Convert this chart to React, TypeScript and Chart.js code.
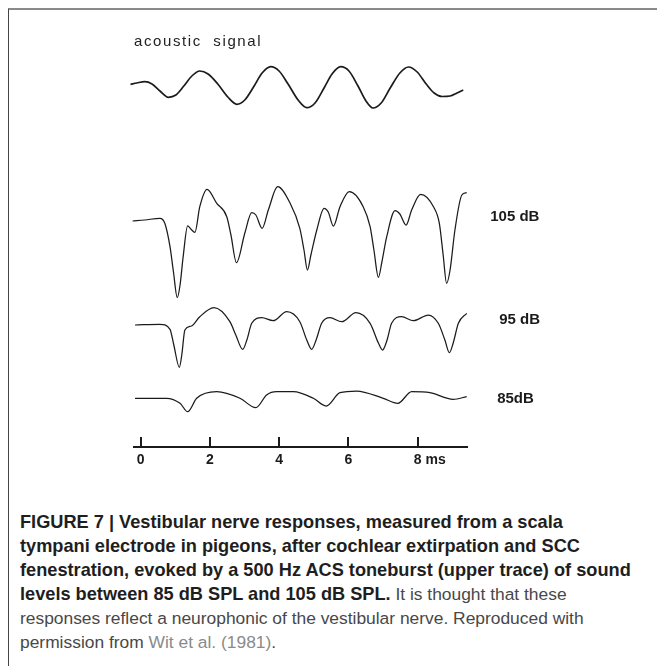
import React, { useEffect, useRef } from 'react';
import { Chart, registerables } from 'chart.js';

Chart.register(...registerables);

// ---------- data (time in ms, amplitude in arbitrary units) ----------
const STIM_T = [-0.29, -0.11, 0.12, 0.33, 0.56, 0.8, 1.02, 1.25, 1.48, 1.71, 1.95, 2.23, 2.52, 2.78, 3.01, 3.28, 3.51, 3.76, 4.0, 4.26, 4.55, 4.8, 5.04, 5.3, 5.53, 5.78, 6.02, 6.28, 6.51, 6.71, 6.95, 7.21, 7.49, 7.74, 7.99, 8.25, 8.48, 8.71, 8.94, 9.14, 9.32];
const STIM_V = [0.27, 0.4, 0.53, 0.3, -0.4, -1.03, -0.8, 0.1, 1.1, 1.6, 1.3, 0.3, -1.0, -1.73, -1.3, 0.1, 1.4, 2.03, 1.6, 0.3, -1.3, -2.07, -1.6, -0.1, 1.3, 2.03, 1.6, 0.1, -1.4, -2.1, -1.6, -0.1, 1.4, 2.0, 1.5, 0.3, -0.6, -0.95, -0.9, -0.6, -0.3];

const R105_T = [-0.23, 0.12, 0.56, 0.7, 0.85, 0.95, 1.06, 1.14, 1.23, 1.36, 1.45, 1.57, 1.71, 1.92, 2.2, 2.49, 2.61, 2.77, 3.01, 3.21, 3.33, 3.51, 3.69, 3.96, 4.32, 4.6, 4.72, 4.82, 4.92, 5.09, 5.3, 5.42, 5.57, 5.76, 6.03, 6.43, 6.63, 6.74, 6.87, 6.97, 7.11, 7.35, 7.49, 7.67, 7.83, 8.09, 8.46, 8.63, 8.74, 8.84, 8.94, 9.08, 9.28, 9.42];
const R105_V = [0, 0.1, 0.27, -0.23, -2.57, -5.1, -7.67, -6.4, -3.57, -0.5, -0.8, -1.13, 1.43, 3.17, 1.77, 0.43, -1.4, -4.17, -1.23, 0.83, 0.6, -0.73, 1.1, 3.43, 1.77, -0.73, -2.9, -4.9, -3.4, -0.9, 1.27, 0.9, -0.5, 1.43, 2.93, 1.43, -0.57, -2.9, -5.63, -4.1, -1.57, 1.03, 0.7, -0.4, 1.1, 2.67, 1.43, -0.23, -3.4, -6.23, -4.9, -0.9, 2.6, 2.83];

const R95_T = [-0.16, 0.56, 0.85, 0.96, 1.12, 1.19, 1.28, 1.47, 1.71, 2.12, 2.58, 2.75, 2.95, 3.07, 3.21, 3.5, 3.83, 4.22, 4.6, 4.8, 4.94, 5.07, 5.23, 5.47, 5.81, 6.22, 6.63, 6.87, 6.99, 7.12, 7.25, 7.54, 7.88, 8.31, 8.6, 8.79, 8.92, 9.03, 9.18, 9.42];
const R95_V = [0, 0.07, -0.43, -2.0, -4.23, -3.0, -0.5, -0.1, 0.83, 1.73, 0.33, -1.0, -2.43, -1.5, 0.17, 0.73, 0.43, 1.33, 0.33, -1.5, -2.43, -1.5, 0.17, 0.73, 0.33, 1.23, 0.17, -1.8, -2.5, -1.5, 0.17, 0.83, 0.43, 1.0, 0.17, -1.5, -2.77, -1.8, 0.17, 1.17];

const R85_T = [-0.16, 0.75, 1.14, 1.36, 1.62, 2.2, 2.87, 3.33, 3.64, 3.93, 4.41, 4.99, 5.36, 5.76, 6.24, 7.01, 7.43, 7.83, 8.36, 9.03, 9.42];
const R85_V = [0, 0, -0.5, -1.34, 0, 0.66, 0, -0.94, 0.33, 0.66, 0.66, 0, -0.77, 0.56, 0.73, 0, -0.5, 0.66, 0.56, -0.1, 0.16];

const TICK_VALUES = [0, 2, 4, 6, 8];
const TICK_LABELS = ['0', '2', '4', '6', '8'];
const TIME_UNIT = 'ms';
const STIM_LABEL = 'acoustic  signal';
const TRACE_LABELS = ['105 dB', '95 dB', '85dB'];

// ---------- layout (not data) ----------
const OFFSET = { stim: 36.0, r105: 22.6, r95: 12.2, r85: 4.87 };
const LABEL_POS = [
  { t: 10.1, dy: 0.43 },
  { t: 10.36, dy: 0.5 },
  { t: 10.3, dy: -0.07 },
];
const X_MIN = -0.19;
const X_MAX = 9.42;
const TICK_LEN = -10;
const TICK_PAD = 15;
const TICK_FONT_SIZE = 14;
const FONT = '"Liberation Sans", Arial, Helvetica, sans-serif';
const INK = '#1b1b1b';

const labelPlugin = {
  id: 'traceLabels',
  afterDraw(chart: any) {
    const { ctx, scales } = chart;
    const x = scales.x;
    const y = scales.y;
    ctx.save();
    ctx.fillStyle = INK;
    ctx.textAlign = 'left';
    ctx.textBaseline = 'middle';
    ctx.font = `bold 15px ${FONT}`;
    const offs = [OFFSET.r105, OFFSET.r95, OFFSET.r85];
    TRACE_LABELS.forEach((lab, i) => {
      ctx.fillText(lab, x.getPixelForValue(LABEL_POS[i].t), y.getPixelForValue(offs[i] + LABEL_POS[i].dy));
    });
    // unit after last tick label
    ctx.font = `bold ${TICK_FONT_SIZE}px ${FONT}`;
    const yLab = x.top + TICK_LEN + TICK_PAD + (TICK_FONT_SIZE * 1.2) / 2;
    ctx.fillText(TIME_UNIT, x.getPixelForValue(TICK_VALUES[TICK_VALUES.length - 1]) + 8, yLab);
    // stimulus label
    ctx.font = `15px ${FONT}`;
    (ctx as any).letterSpacing = '1.6px';
    ctx.fillStyle = '#222';
    ctx.fillText(STIM_LABEL, x.getPixelForValue(X_MIN), y.getPixelForValue(OFFSET.stim + 4.5));
    (ctx as any).letterSpacing = '0px';
    ctx.restore();
  },
};

export default function App() {
  const ref = useRef<HTMLCanvasElement>(null);

  useEffect(() => {
    const canvas = ref.current;
    if (!canvas) return;
    const mk = (t: number[], v: number[], off: number) => t.map((tt, i) => ({ x: tt, y: v[i] + off }));
    const base = {
      borderColor: INK,
      pointRadius: 0,
      fill: false,
      cubicInterpolationMode: 'monotone' as const,
      clip: false as const,
    };
    const chart = new Chart(canvas, {
      type: 'line',
      data: {
        datasets: [
          { ...base, label: 'acoustic signal', data: mk(STIM_T, STIM_V, OFFSET.stim), borderWidth: 1.7 },
          { ...base, label: '105 dB', data: mk(R105_T, R105_V, OFFSET.r105), borderWidth: 1.25 },
          { ...base, label: '95 dB', data: mk(R95_T, R95_V, OFFSET.r95), borderWidth: 1.25 },
          { ...base, label: '85 dB', data: mk(R85_T, R85_V, OFFSET.r85), borderWidth: 1.25 },
        ],
      },
      options: {
        animation: false,
        responsive: false,
        maintainAspectRatio: false,
        layout: { padding: { left: 134, right: 190.3, top: 57, bottom: 13 } },
        plugins: { legend: { display: false }, tooltip: { enabled: false } },
        scales: {
          x: {
            type: 'linear',
            position: 'bottom',
            min: X_MIN,
            max: X_MAX,
            afterBuildTicks: (axis: any) => {
              axis.ticks = TICK_VALUES.map((v) => ({ value: v }));
            },
            afterFit: (s: any) => {
              s.height = 40;
            },
            grid: {
              drawOnChartArea: false,
              drawTicks: true,
              tickLength: TICK_LEN,
              color: INK,
              tickColor: INK,
              lineWidth: 2,
              tickWidth: 2,
            },
            border: { display: true, color: INK, width: 2 },
            ticks: {
              autoSkip: false,
              maxRotation: 0,
              padding: TICK_PAD,
              color: INK,
              font: { family: FONT, size: TICK_FONT_SIZE, weight: 'bold' },
              callback: (v: any) => {
                const i = TICK_VALUES.indexOf(Number(v));
                return i >= 0 ? TICK_LABELS[i] : '';
              },
            },
          },
          y: { type: 'linear', display: false, min: 0, max: 39 },
        },
      },
      plugins: [labelPlugin],
    } as any);
    return () => chart.destroy();
  }, []);

  const bold: React.CSSProperties = { fontWeight: 700, fontSize: 18.2, color: '#1e1e1e' };
  const reg: React.CSSProperties = { fontWeight: 400, fontSize: 17.4, color: '#484848' };
  const link: React.CSSProperties = { fontWeight: 400, fontSize: 17.4, color: '#8a8a8a' };
  const line: React.CSSProperties = { height: 24, lineHeight: '24px', whiteSpace: 'nowrap', overflow: 'visible' };

  return (
    <div style={{ position: 'fixed', left: 0, top: 0, right: 0, bottom: 0, background: '#fff', overflow: 'hidden' }}>
      <div
        style={{
          position: 'absolute',
          left: 8,
          top: 8,
          right: 0,
          bottom: 0,
          borderTop: '2px solid #8a8a8a',
          borderLeft: '1px solid #444',
        }}
      />
      <canvas ref={ref} width={657} height={500} style={{ position: 'absolute', left: 0, top: 0, width: 657, height: 500 }} />
      <div style={{ position: 'absolute', left: 20, top: 510, fontFamily: FONT, fontSize: 18.2 }}>
        <div style={line}>
          <span style={bold}>FIGURE 7 | Vestibular nerve responses, measured from a scala</span>
        </div>
        <div style={line}>
          <span style={bold}>tympani electrode in pigeons, after cochlear extirpation and SCC</span>
        </div>
        <div style={line}>
          <span style={bold}>fenestration, evoked by a 500 Hz ACS toneburst (upper trace) of sound</span>
        </div>
        <div style={line}>
          <span style={bold}>levels between 85 dB SPL and 105 dB SPL.</span>
          <span style={reg}> It is thought that these</span>
        </div>
        <div style={line}>
          <span style={reg}>responses reflect a neurophonic of the vestibular nerve. Reproduced with</span>
        </div>
        <div style={line}>
          <span style={reg}>permission from </span>
          <span style={link}>Wit et al. (1981)</span>
          <span style={reg}>.</span>
        </div>
      </div>
    </div>
  );
}
